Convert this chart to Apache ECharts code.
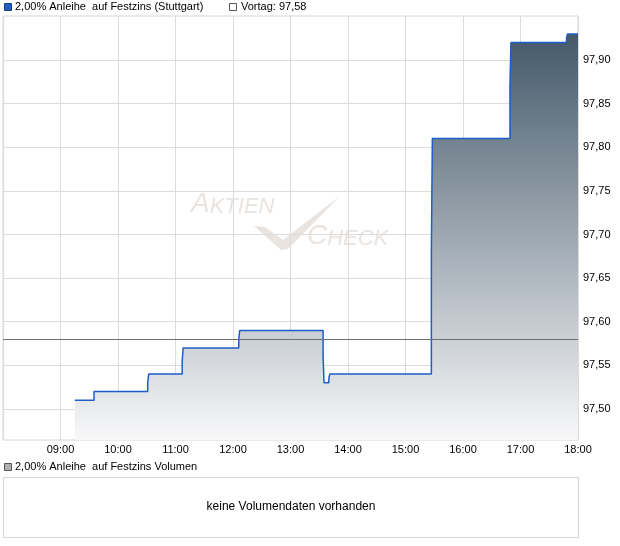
<!DOCTYPE html>
<html>
<head>
<meta charset="utf-8">
<script src="https://cdn.jsdelivr.net/npm/echarts@6/dist/echarts.min.js"></script>
<style>
html,body{margin:0;padding:0;background:#fff;}
#chart{width:620px;height:546px;}
</style>
</head>
<body>
<div id="chart"></div>
<script>
// ---- data ----
var times = ['09:15','09:35','10:31','10:32','11:07','11:08','12:06','12:07','13:34','13:35','13:40','13:41','15:27','15:28','16:49','16:50','17:48','17:49','18:00'];
var prices = [97.51,97.52,97.53,97.54,97.555,97.57,97.58,97.59,97.56,97.53,97.535,97.54,97.68,97.81,97.87,97.92,97.925,97.93,97.93];
var prevClose = 97.58;
var yTicks = [97.50,97.55,97.60,97.65,97.70,97.75,97.80,97.85,97.90];
var xTickLabels = ['09:00','10:00','11:00','12:00','13:00','14:00','15:00','16:00','17:00','18:00'];
var seriesName = '2,00% Anleihe  auf Festzins (Stuttgart)';
var prevName = 'Vortag: 97,58';
var volName = '2,00% Anleihe  auf Festzins Volumen';
var noVolText = 'keine Volumendaten vorhanden';

function toMin(t){var p=t.split(':');return (+p[0])*60+(+p[1]);}
function fmtMin(v){var h=Math.floor(v/60),m=v%60;return (h<10?'0':'')+h+':'+(m<10?'0':'')+m;}
var data = times.map(function(t,i){return [toMin(t), prices[i]];});

var FONT = '"Liberation Sans", Arial, sans-serif';
var chart = echarts.init(document.getElementById('chart'), null, {renderer:'canvas'});
var wmColor = '#e9e4df';
function wm(text1, text2, left, top){
  return {type:'text', left:left, top:top, z:0, silent:true, style:{
    text:'{a|'+text1+'}{b|'+text2+'}', fill:wmColor,
    rich:{a:{fontSize:28, fontStyle:'italic', fontFamily:FONT, fill:wmColor, verticalAlign:'bottom'},
          b:{fontSize:22, fontStyle:'italic', fontFamily:FONT, fill:wmColor, verticalAlign:'bottom'}}
  }};
}
chart.setOption({
  animation:false,
  grid:{left:3, top:16, right:42, bottom:106, show:true, borderColor:'#d4d4d4', borderWidth:1, backgroundColor:'transparent'},
  xAxis:{
    type:'value', min:480, max:1080, interval:60,
    axisLine:{show:false}, axisTick:{show:false},
    axisLabel:{
      margin:4, color:'#000', fontSize:11, fontFamily:FONT,
      formatter:function(v){var s=fmtMin(v);return xTickLabels.indexOf(s)>=0?s:'';}
    },
    splitLine:{show:true, lineStyle:{color:'#dcdcdc', width:1}}
  },
  yAxis:{
    type:'value', position:'right', min:97.4644, max:97.9505, scale:true,
    axisLine:{show:false},
    axisTick:{show:false, customValues:yTicks},
    axisLabel:{customValues:yTicks, margin:5, color:'#000', fontSize:11, fontFamily:FONT,
      formatter:function(v){return v.toFixed(2).replace('.',',');}},
    splitLine:{show:true, lineStyle:{color:'#dcdcdc', width:1}}
  },
  graphic:[
    // watermark
    wm('A','KTIEN',191,190),
    wm('C','HECK',307,222),
    {type:'polygon', z:0, silent:true, shape:{points:[[254,226],[265,227],[283,240],[340,196],[288,249],[281,250]]}, style:{fill:wmColor}},
    // top legend
    {type:'rect', shape:{x:4.5,y:3.5,width:7,height:7}, style:{fill:'#1f5fc4', stroke:'#173f80', lineWidth:1}},
    {type:'text', left:15, top:1, style:{text:seriesName, fontSize:11, fontFamily:FONT, fill:'#000'}},
    {type:'rect', shape:{x:229.5,y:3.5,width:7,height:7}, style:{fill:'#fff', stroke:'#555', lineWidth:1}},
    {type:'text', left:241, top:1, style:{text:prevName, fontSize:11, fontFamily:FONT, fill:'#000'}},
    // volume panel
    {type:'rect', shape:{x:4.5,y:463.5,width:7,height:7}, style:{fill:'#b0b0b0', stroke:'#555', lineWidth:1}},
    {type:'text', left:15, top:461, style:{text:volName, fontSize:11, fontFamily:FONT, fill:'#000'}},
    {type:'rect', shape:{x:3.5,y:477.5,width:575,height:60}, style:{fill:'#fff', stroke:'#d4d4d4', lineWidth:1}},
    {type:'text', x:291, y:507, style:{text:noVolText, fontSize:12, fontFamily:FONT, fill:'#000', align:'center', verticalAlign:'middle'}}
  ],
  series:[{
    type:'line', name:seriesName, data:data, step:'end', symbol:'none', z:3,
    lineStyle:{color:'#1d5ec8', width:1.5},
    areaStyle:{origin:'start', opacity:1, color:{type:'linear',x:0,y:0,x2:0,y2:1,colorStops:[{offset:0,color:'#44596a'},{offset:1,color:'#f8f8f9'}]}},
    markLine:{silent:true, symbol:['none','none'], label:{show:false}, z:5,
      lineStyle:{color:'#6e6e6e', width:1, type:'solid'}, data:[{yAxis:prevClose}]}
  }]
});
</script>
</body>
</html>
